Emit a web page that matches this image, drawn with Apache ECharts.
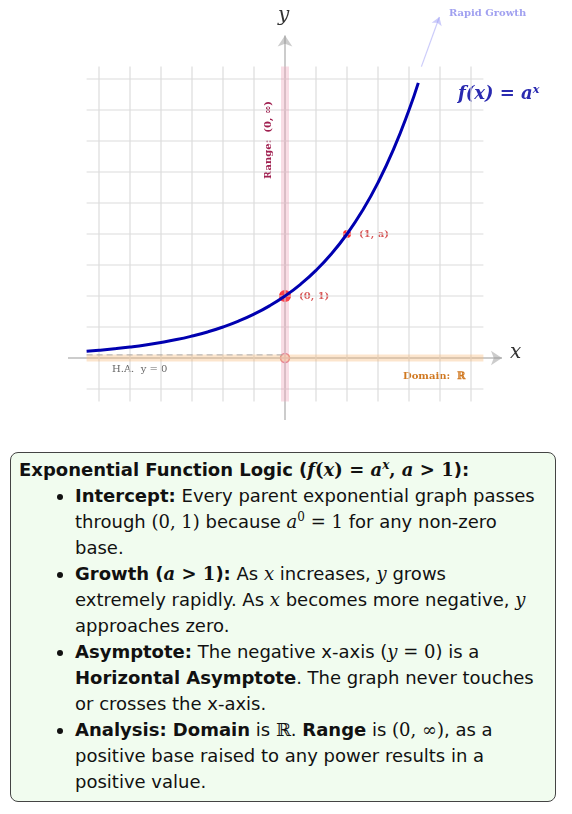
<!DOCTYPE html>
<html><head><meta charset="utf-8">
<script src="https://cdn.jsdelivr.net/npm/echarts@6/dist/echarts.min.js"></script>
<style>
body{margin:0;background:#fff;font-family:"DejaVu Sans",sans-serif;}
#chart{width:572px;height:430px;}
#box{position:absolute;left:10px;top:452px;width:520px;height:340px;border:1.5px solid #444;border-radius:8px;background:#f1fcef;padding:4px 16px 4px 8px;font-size:18px;line-height:26px;color:#111;}
#box ul{margin:0;padding-left:56px;}
#box li{margin:0;}
sup{line-height:0;font-size:12px;}
i.m{font-family:"DejaVu Serif",serif;}
.r{font-family:"DejaVu Serif",serif;}
</style></head><body>
<div id="chart"></div>
<div id="box">
<b>Exponential Function Logic (<i class="m">f</i><span class="r">(</span><i class="m">x</i><span class="r">) = </span><i class="m">a<sup>x</sup></i><span class="r">, </span><i class="m">a</i><span class="r"> &gt; 1</span>):</b>
<ul>
<li><b>Intercept:</b> Every parent exponential graph passes through <span class="r">(0, 1)</span> because <i class="m">a</i><sup class="r">0</sup> <span class="r">= 1</span> for any non-zero base.</li>
<li><b>Growth (<i class="m">a</i> <span class="r">&gt; 1</span>):</b> As <i class="m">x</i> increases, <i class="m">y</i> grows extremely rapidly. As <i class="m">x</i> becomes more negative, <i class="m">y</i> approaches zero.</li>
<li><b>Asymptote:</b> The negative x-axis (<i class="m">y</i> <span class="r">= 0</span>) is a <b>Horizontal Asymptote</b>. The graph never touches or crosses the x-axis.</li>
<li><b>Analysis: Domain</b> is <span class="r">ℝ</span>. <b>Range</b> is <span class="r">(0, ∞)</span>, as a positive base raised to any power results in a positive value.</li>
</ul>
</div>
<script>
// base de l'exponentielle et échantillons de la courbe
const BASE = 2;
const curveX = [-3.2,-3,-2.75,-2.5,-2.25,-2,-1.75,-1.5,-1.25,-1,-0.75,-0.5,-0.25,0,0.25,0.5,0.75,1,1.25,1.5,1.75,2,2.15];
const curveY = [0.109,0.125,0.149,0.177,0.210,0.25,0.297,0.354,0.420,0.5,0.595,0.707,0.841,1,1.189,1.414,1.682,2,2.378,2.828,3.364,4,4.438];
const gridXs = [-3,-2.5,-2,-1.5,-1,-0.5,0,0.5,1,1.5,2,2.5,3];
const gridYs = [-0.5,0,0.5,1,1.5,2,2.5,3,3.5,4,4.5];
const keyPoints = [[0,1,'(0, 1)'],[1,2,'(1, a)']];

const chart = echarts.init(document.getElementById('chart'));
const segs = [];
gridXs.forEach(x => { segs.push([x,-0.7],[x,4.7],[null,null]); });
gridYs.forEach(y => { segs.push([-3.2,y],[3.2,y],[null,null]); });
const serif = '"DejaVu Serif",serif';

chart.setOption({
  animation:false,
  grid:{left:0,top:0,width:572,height:430},
  xAxis:{type:'value',min:-285/62,max:287/62,show:false},
  yAxis:{type:'value',min:-72/62,max:358/62,show:false},
  series:[
    {type:'line',data:segs,symbol:'none',connectNulls:false,lineStyle:{color:'#dcdcdc',width:1.2},silent:true},
    {type:'line',data:[[0,-0.7],[0,4.7]],symbol:'none',lineStyle:{color:'rgba(230,120,150,0.25)',width:8}},
    {type:'line',data:[[-3.2,0],[3.2,0]],symbol:'none',lineStyle:{color:'rgba(245,170,90,0.3)',width:7}},
    {type:'line',data:[[-3.2,0.05],[0,0.05]],symbol:'none',lineStyle:{color:'#aaa',width:1,type:[6,4]}},
    {type:'lines',coordinateSystem:'cartesian2d',symbol:['none','arrow'],symbolSize:11,
      data:[
        {coords:[[-3.5,0],[3.5,0]],lineStyle:{color:'#999',width:2}},
        {coords:[[0,-1],[0,5.2]],lineStyle:{color:'#999',width:2}}
      ]},
    {type:'lines',coordinateSystem:'cartesian2d',symbol:['none','arrow'],symbolSize:8,
      data:[{coords:[[2.2,4.7],[2.49,5.5]],lineStyle:{color:'#9a9af5',width:1.2}}]},
    {type:'line',data:curveX.map((x,i)=>[x,curveY[i]]),smooth:true,symbol:'none',lineStyle:{color:'#0000b0',width:3}},
    {type:'scatter',data:[[0,0]],symbol:'circle',symbolSize:9,itemStyle:{color:'#fff',borderColor:'#e07080',borderWidth:1.5}},
    {type:'scatter',data:keyPoints.map(p=>[p[0],p[1],p[2]]),
      symbolSize:(v,p)=>p.dataIndex===0?12:8,itemStyle:{color:'#ff0000'},
      label:{show:true,position:'right',distance:8,formatter:p=>p.value[2],
        fontFamily:serif,fontSize:10,fontWeight:'bold',color:'#d03030'}}
  ],
  graphic:[
    {type:'text',left:278,top:6,style:{text:'y',font:'italic 20px '+serif,fill:'#333'}},
    {type:'text',left:510,top:343,style:{text:'x',font:'italic 20px '+serif,fill:'#333'}},
    {type:'text',left:449,top:8,style:{text:'Rapid Growth',font:'bold 10px '+serif,fill:'#a0a0f0'}},
    {type:'text',left:458,top:85,style:{text:'f(x) = aˣ',font:'italic bold 18px '+serif,fill:'#2a2ab0'}},
    {type:'text',left:112,top:364,style:{text:'H.A.  y = 0',font:'10px '+serif,fill:'#666'}},
    {type:'text',left:403,top:371,style:{text:'Domain:  ℝ',font:'bold 10px '+serif,fill:'#d07820'}},
    {type:'text',x:268,y:140,rotation:Math.PI/2,style:{text:'Range:  (0, ∞)',font:'bold 10px '+serif,fill:'#a02050',align:'center',verticalAlign:'middle'}}
  ]
});
</script>
</body></html>
